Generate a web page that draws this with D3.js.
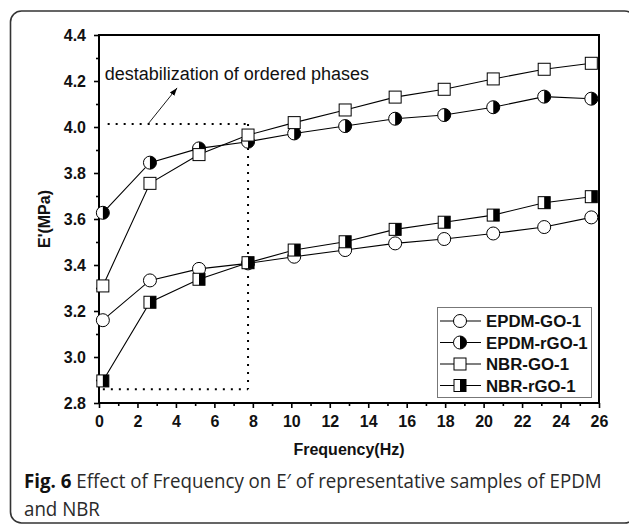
<!DOCTYPE html>
<html><head><meta charset="utf-8">
<script src="https://cdn.jsdelivr.net/npm/d3@7"></script>
<style>body{margin:0;background:#fff}svg{display:block}</style>
</head><body><svg id="c" width="629" height="524"></svg>
<script>
// ---- data ----
const freq      = [0.2, 2.65, 5.2, 7.75, 10.15, 12.8, 15.4, 17.95, 20.5, 23.15, 25.6];
const epdmGO    = [3.160, 3.333, 3.383, 3.407, 3.436, 3.465, 3.494, 3.513, 3.537, 3.565, 3.607];
const epdmRGO   = [3.627, 3.845, 3.907, 3.936, 3.972, 4.004, 4.036, 4.052, 4.086, 4.132, 4.123];
const nbrGO     = [3.309, 3.755, 3.880, 3.965, 4.019, 4.074, 4.130, 4.164, 4.209, 4.251, 4.277];
const nbrRGO    = [2.896, 3.238, 3.338, 3.410, 3.465, 3.501, 3.555, 3.586, 3.617, 3.671, 3.697];
const seriesNames  = ["EPDM-GO-1", "EPDM-rGO-1", "NBR-GO-1", "NBR-rGO-1"];
const seriesShapes = ["circle", "halfCircle", "square", "halfSquare"];
const seriesValues = [epdmGO, epdmRGO, nbrGO, nbrRGO];
const yTickValues  = [2.8, 3.0, 3.2, 3.4, 3.6, 3.8, 4.0, 4.2, 4.4];
const yMinorValues = [2.9, 3.1, 3.3, 3.5, 3.7, 3.9, 4.1, 4.3];
const xTickValues  = [0, 2, 4, 6, 8, 10, 12, 14, 16, 18, 20, 22, 24, 26];
const xMinorValues = [1, 3, 5, 7, 9, 11, 13, 15, 17, 19, 21, 23, 25];
const guideFreq = 7.75, guideLow = 2.86, guideHigh = 4.013, guideStart = 0.45, guideStartLow = 0.2;
const arrowFrom = [2.55, 4.013], arrowTo = [4.06, 4.17];
const annotationPos = [0.3, 4.204];
const annotationText = "destabilization of ordered phases";
const xTitle = "Frequency(Hz)", yTitle = "E'(MPa)";
const captionBold = "Fig. 6", captionLine1 = " Effect of Frequency on E\u2032 of representative samples of EPDM", captionLine2 = "and NBR";

// ---- layout ----
const svg = d3.select("#c");
const L = 99, R = 599, T = 35, B = 403;
const x = d3.scaleLinear().domain([0, 26]).range([L, R]);
const y = d3.scaleLinear().domain([2.8, 4.4]).range([B, T]);
const AX = "'Liberation Sans', Arial, sans-serif";

// outer rounded frame
svg.append("rect").attr("x", 10.5).attr("y", 11).attr("width", 625).attr("height", 512)
  .attr("rx", 11).attr("fill", "none").attr("stroke", "#333").attr("stroke-width", 1.6);

// axes
function styleAxis(g) {
  g.select(".domain").remove();
  g.selectAll("line").attr("stroke", "#000").attr("stroke-width", 1.6);
  g.selectAll("text").attr("font-family", AX).attr("font-weight", "bold").attr("font-size", 16).attr("fill", "#111");
}
svg.append("g").attr("transform", `translate(${L},0)`)
  .call(d3.axisLeft(y).tickValues(yTickValues).tickSize(5).tickPadding(8).tickFormat(d3.format(".1f"))).call(styleAxis);
svg.append("g").attr("transform", `translate(${L},0)`)
  .call(d3.axisLeft(y).tickValues(yMinorValues).tickSize(3).tickFormat("")).call(styleAxis);
svg.append("g").attr("transform", `translate(0,${B})`)
  .call(d3.axisBottom(x).tickValues(xTickValues).tickSize(5).tickPadding(8).tickFormat(d3.format("d"))).call(styleAxis);
svg.append("g").attr("transform", `translate(0,${B})`)
  .call(d3.axisBottom(x).tickValues(xMinorValues).tickSize(3).tickFormat("")).call(styleAxis);

// plot frame
svg.append("rect").attr("x", L).attr("y", T).attr("width", R - L).attr("height", B - T)
  .attr("fill", "none").attr("stroke", "#000").attr("stroke-width", 2);

// titles
svg.append("text").attr("x", (L + R) / 2).attr("y", 455).attr("text-anchor", "middle")
  .attr("font-family", AX).attr("font-weight", "bold").attr("font-size", 16).attr("fill", "#111").text(xTitle);
svg.append("text").attr("transform", `translate(50,${(T + B) / 2}) rotate(-90)`).attr("text-anchor", "middle")
  .attr("font-family", AX).attr("font-weight", "bold").attr("font-size", 16).attr("fill", "#111").text(yTitle);

// guide dotted lines
const dot = g => g.attr("stroke", "#000").attr("stroke-width", 2).attr("stroke-dasharray", "2,6").attr("fill", "none");
svg.append("line").attr("x1", x(guideStart)).attr("x2", x(guideFreq)).attr("y1", y(guideHigh)).attr("y2", y(guideHigh)).call(dot);
svg.append("line").attr("x1", x(guideFreq)).attr("x2", x(guideFreq)).attr("y1", y(guideHigh)).attr("y2", y(guideLow)).call(dot);
svg.append("line").attr("x1", x(guideStartLow)).attr("x2", x(guideFreq)).attr("y1", y(guideLow)).attr("y2", y(guideLow)).call(dot);

// arrow
svg.append("defs").append("marker").attr("id", "ah").attr("viewBox", "0 0 10 10").attr("refX", 10).attr("refY", 5)
  .attr("markerWidth", 8).attr("markerHeight", 8).attr("markerUnits", "userSpaceOnUse").attr("orient", "auto")
  .append("path").attr("d", "M0,1.5 L10,5 L0,8.5 Z").attr("fill", "#000");
svg.append("line").attr("x1", x(arrowFrom[0])).attr("y1", y(arrowFrom[1])).attr("x2", x(arrowTo[0])).attr("y2", y(arrowTo[1]))
  .attr("stroke", "#000").attr("stroke-width", 0.9).attr("marker-end", "url(#ah)");
svg.append("text").attr("x", x(annotationPos[0])).attr("y", y(annotationPos[1]))
  .attr("font-family", AX).attr("font-size", 18).attr("fill", "#111").text(annotationText);

// markers
const rC = 6.5, sS = 12;
function drawMarker(g, shape, cx, cy) {
  if (shape === "circle" || shape === "halfCircle") {
    g.append("circle").attr("cx", cx).attr("cy", cy).attr("r", rC).attr("fill", "#fff");
    if (shape === "halfCircle")
      g.append("path").attr("d", `M${cx},${cy - rC} A${rC},${rC} 0 0 1 ${cx},${cy + rC} Z`).attr("fill", "#000");
    g.append("circle").attr("cx", cx).attr("cy", cy).attr("r", rC).attr("fill", "none").attr("stroke", "#000").attr("stroke-width", 1);
  } else {
    g.append("rect").attr("x", cx - sS / 2).attr("y", cy - sS / 2).attr("width", sS).attr("height", sS).attr("fill", "#fff");
    if (shape === "halfSquare")
      g.append("rect").attr("x", cx).attr("y", cy - sS / 2).attr("width", sS / 2).attr("height", sS).attr("fill", "#000");
    g.append("rect").attr("x", cx - sS / 2).attr("y", cy - sS / 2).attr("width", sS).attr("height", sS)
      .attr("fill", "none").attr("stroke", "#000").attr("stroke-width", 1);
  }
}
const line = d3.line().x(d => x(d[0])).y(d => y(d[1]));
seriesValues.forEach((vals, i) => {
  const pts = freq.map((f, j) => [f, vals[j]]);
  const g = svg.append("g");
  g.append("path").attr("d", line(pts)).attr("fill", "none").attr("stroke", "#000").attr("stroke-width", 1.1);
  pts.forEach(p => drawMarker(g, seriesShapes[i], x(p[0]), y(p[1])));
});

// legend
const lg = svg.append("g");
lg.append("rect").attr("x", 437.5).attr("y", 307.5).attr("width", 154).attr("height", 90)
  .attr("fill", "#fff").attr("stroke", "#777").attr("stroke-width", 1);
seriesNames.forEach((n, i) => {
  const cy = 321 + i * 21.5;
  lg.append("line").attr("x1", 440).attr("x2", 481).attr("y1", cy).attr("y2", cy).attr("stroke", "#000").attr("stroke-width", 1.1);
  drawMarker(lg, seriesShapes[i], 460, cy);
  lg.append("text").attr("x", 486).attr("y", cy).attr("dy", "0.36em")
    .attr("font-family", AX).attr("font-weight", "bold").attr("font-size", 16.8).attr("fill", "#111").text(n);
});

// caption (font size 20, horizontally condensed to the reference width)
const CF = "'Open Sans', 'Noto Sans', sans-serif";
const cap = svg.append("text").attr("x", 24).attr("y", 488).attr("font-family", CF).attr("font-size", 20).attr("fill", "#2a2a2a");
cap.append("tspan").attr("font-weight", "bold").attr("fill", "#111").text(captionBold);
cap.append("tspan").text(captionLine1);
const w = cap.node().getComputedTextLength();
const target = 578;
const ratio = Math.min(1, target / w);
cap.attr("transform", `translate(24,488) scale(${ratio},1) translate(-24,-488)`);
svg.append("text").attr("x", 24).attr("y", 516).attr("font-family", CF).attr("font-size", 20).attr("fill", "#2a2a2a")
  .attr("transform", `translate(24,516) scale(${ratio},1) translate(-24,-516)`).text(captionLine2);
</script></body></html>
